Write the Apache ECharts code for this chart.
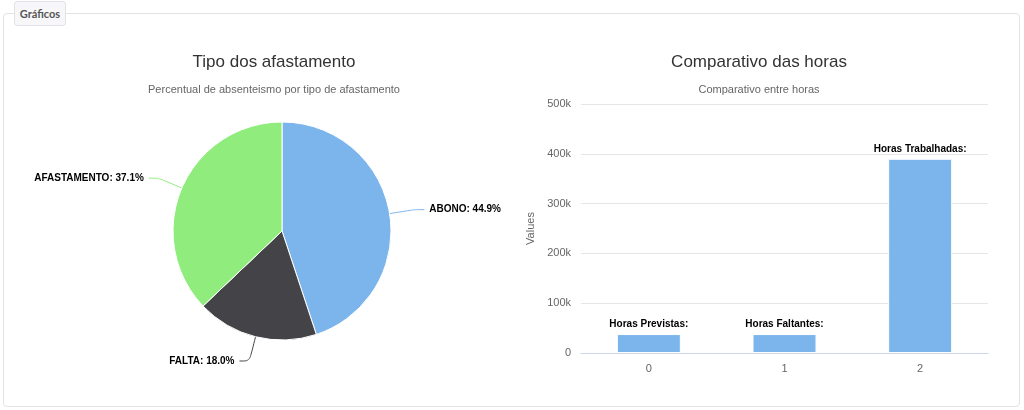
<!DOCTYPE html>
<html lang="pt">
<head>
    <meta charset="UTF-8">
    <title>Gráficos</title>
    <script src="https://cdn.jsdelivr.net/npm/echarts@6/dist/echarts.min.js"></script>
    <style>
        html, body { margin: 0; padding: 0; background: #fff; }
        body { width: 1024px; height: 410px; position: relative; overflow: hidden;
               font-family: "Liberation Sans", Arial, sans-serif; }
        .quadro {
            position: absolute; left: 3px; top: 13px; width: 1015px; height: 392px;
            border: 1px solid #e3e3e3; border-radius: 4px;
        }
        .legenda {
            position: absolute; left: 14px; top: 1px; width: 50px; height: 23px;
            line-height: 23px; text-align: center; font-size: 11px; font-weight: bold; color: #555;
            font-family: Lato, "Liberation Sans", Arial, sans-serif;
            background: #f7f7f9; border: 1px solid #e1e1e8; border-radius: 3px;
        }
        #grafico { position: absolute; left: 0; top: 0; width: 1024px; height: 410px; }
    </style>
</head>
<body>
    <div class="quadro"></div>
    <div class="legenda">Gráficos</div>
    <div id="grafico"></div>

    <script type="text/javascript">
        // dados do grafico de pizza
        var tiposAfastamento = ['ABONO', 'FALTA', 'AFASTAMENTO'];
        var percentuais = [44.9, 18.0, 37.1];
        var coresPizza = ['#7cb5ec', '#434348', '#90ed7d'];

        // dados do grafico de barras
        var categoriasHoras = ['0', '1', '2'];
        var nomesHoras = ['Horas Previstas:', 'Horas Faltantes:', 'Horas Trabalhadas:'];
        var valoresHoras = [38000, 38000, 390000];

        var fonte = '"Liberation Sans", Arial, sans-serif';

        var chart = echarts.init(document.getElementById('grafico'));

        var option = {
            animation: false,
            textStyle: { fontFamily: fonte },
            title: [
                { text: 'Tipo dos afastamento', left: 269, top: 49, textAlign: 'center',
                  textStyle: { fontSize: 17, fontWeight: 'normal', color: '#333', fontFamily: fonte } },
                { text: 'Percentual de absenteismo por tipo de afastamento', left: 269, top: 79, textAlign: 'center',
                  textStyle: { fontSize: 11, fontWeight: 'normal', color: '#666', fontFamily: fonte } },
                { text: 'Comparativo das horas', left: 754, top: 49, textAlign: 'center',
                  textStyle: { fontSize: 17, fontWeight: 'normal', color: '#333', fontFamily: fonte } },
                { text: 'Comparativo entre horas', left: 754, top: 79, textAlign: 'center',
                  textStyle: { fontSize: 11, fontWeight: 'normal', color: '#666', fontFamily: fonte } }
            ],
            grid: { left: 581, right: 36, top: 104, bottom: 57 },
            xAxis: {
                type: 'category',
                data: categoriasHoras,
                axisLine: { lineStyle: { color: '#ccd6eb' } },
                axisTick: { alignWithLabel: true, length: 10, lineStyle: { color: '#ccd6eb' } },
                axisLabel: { color: '#666', fontSize: 11, margin: 10 }
            },
            yAxis: {
                type: 'value',
                min: 0, max: 500000, interval: 100000,
                name: 'Values', nameLocation: 'middle', nameRotate: 90, nameGap: 45,
                nameTextStyle: { color: '#666', fontSize: 11 },
                axisLine: { show: false },
                axisTick: { show: false },
                axisLabel: {
                    color: '#666', fontSize: 11, margin: 10,
                    formatter: function (v) { return v === 0 ? '0' : (v / 1000) + 'k'; }
                },
                splitLine: { lineStyle: { color: '#e6e6e6' } }
            },
            series: [
                {
                    type: 'pie',
                    center: [282, 231],
                    radius: 109,
                    startAngle: 90,
                    clockwise: true,
                    data: tiposAfastamento.map(function (n, i) {
                        return { name: n, value: percentuais[i], itemStyle: { color: coresPizza[i] } };
                    }),
                    itemStyle: { borderColor: '#fff', borderWidth: 1 },
                    label: {
                        color: '#000', fontSize: 10, fontWeight: 'bold',
                        distanceToLabelLine: 5,
                        formatter: function (p) { return p.name + ': ' + p.value.toFixed(1) + '%'; }
                    },
                    labelLine: { length: 25, length2: 10, smooth: 0.3, lineStyle: { width: 1 } },
                    emphasis: { disabled: true }
                },
                {
                    type: 'bar',
                    data: valoresHoras,
                    barWidth: 64,
                    itemStyle: { color: '#7cb5ec', borderColor: '#fff', borderWidth: 1 },
                    label: {
                        show: true, position: 'top', distance: 5,
                        color: '#000', fontSize: 10, fontWeight: 'bold',
                        formatter: function (p) { return nomesHoras[p.dataIndex]; }
                    }
                }
            ]
        };

        chart.setOption(option);
    </script>
</body>
</html>
